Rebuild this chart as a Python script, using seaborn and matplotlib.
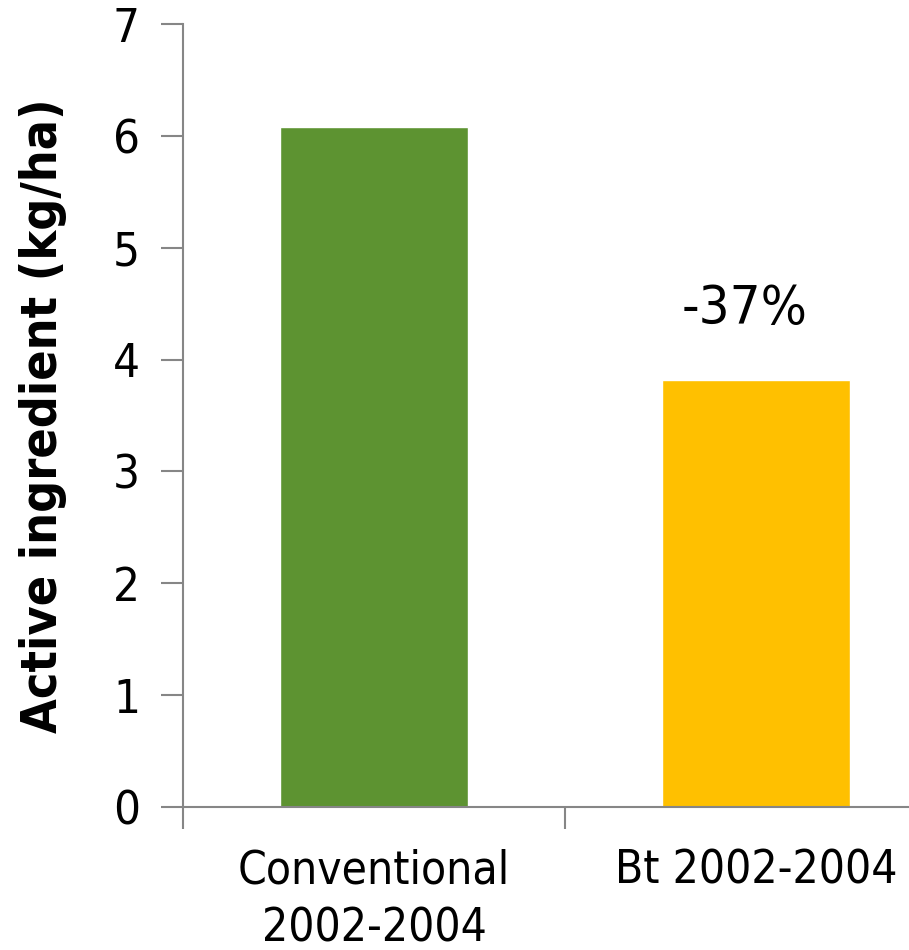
import matplotlib
matplotlib.use("Agg")
import matplotlib.pyplot as plt
import seaborn as sns
import pandas as pd

# Insecticide active ingredient applied per hectare
categories = ["Conventional\n2002-2004", "Bt 2002-2004"]
values = [6.08, 3.82]
bar_colors = ["#5D9331", "#FFC000"]
y_ticks = [0, 1, 2, 3, 4, 5, 6, 7]

sns.set_theme(style="white")
plt.rcParams["font.family"] = ["DejaVu Sans"]
plt.rcParams["font.stretch"] = "condensed"
plt.rcParams["text.color"] = "black"
plt.rcParams["axes.labelcolor"] = "black"
plt.rcParams["xtick.color"] = "black"
plt.rcParams["ytick.color"] = "black"

df = pd.DataFrame({"group": categories, "value": values})

fig = plt.figure(figsize=(9.09, 9.50), dpi=100)
ax = fig.add_axes([183 / 909, 143 / 950, 764 / 909, 783 / 950])

sns.barplot(data=df, x="group", y="value", hue="group", palette=bar_colors,
            width=0.49, saturation=1, legend=False, ax=ax)

axis_gray = "#868686"
ax.set_xlim(-0.5, 1.5)
ax.set_ylim(0, 7)
ax.set_yticks(y_ticks)
ax.set_xticks([-0.5, 0.5, 1.5], minor=False)
ax.set_xticks([0, 1], minor=True)
ax.set_xticklabels([], minor=False)
ax.set_xticklabels(categories, minor=True, fontsize=33, linespacing=1.37)
ax.tick_params(axis="x", which="minor", length=0, pad=30)
ax.tick_params(axis="x", which="major", length=16, width=1.5, color=axis_gray,
               direction="out", bottom=True)
ax.tick_params(axis="y", length=16, width=1.5, color=axis_gray, direction="out",
               left=True, labelsize=34, pad=15)

for side in ["top", "right"]:
    ax.spines[side].set_visible(False)
for side in ["left", "bottom"]:
    ax.spines[side].set_color(axis_gray)
    ax.spines[side].set_linewidth(1.5)

ax.set_xlabel("")
ax.set_ylabel("Active ingredient (kg/ha)", fontsize=36, fontweight="bold")
ax.yaxis.set_label_coords(-0.152, 0.5)

change = (values[1] / values[0] - 1) * 100
ax.text(0.97, values[1] + 0.50, f"{change:.0f}%", ha="center", va="baseline",
        fontsize=39)

fig.savefig("out.png", dpi=100)
